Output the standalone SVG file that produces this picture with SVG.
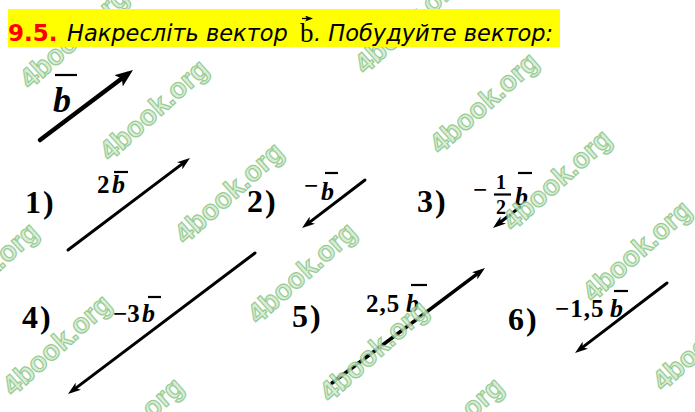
<svg xmlns="http://www.w3.org/2000/svg" width="695" height="412" viewBox="0 0 695 412">
<style>
.hd{font-family:"DejaVu Sans",Verdana,sans-serif;font-size:22.5px;}
.it{font-style:italic;fill:#000;}
.num{font-family:"Liberation Serif","Times New Roman",serif;font-weight:bold;font-size:32px;fill:#000;letter-spacing:2px;}
.lb{font-family:"Liberation Serif","Times New Roman",serif;font-weight:bold;font-size:25px;fill:#000;}
.bv{font-family:"Liberation Serif","Times New Roman",serif;font-weight:bold;font-style:italic;font-size:26px;fill:#000;}
.bar{stroke:#000;stroke-width:2.2;fill:none;}
.vec{stroke:#000;fill:none;stroke-linecap:round;}
.wm{font-family:"Liberation Sans",Arial,sans-serif;font-weight:bold;font-size:28px;fill:#d3ecce;stroke:#86c383;stroke-width:1.2;opacity:0.85;}
</style>
<defs>
<marker id="ah" markerUnits="userSpaceOnUse" viewBox="0 0 13 9" markerWidth="13" markerHeight="9" refX="7" refY="4.5" orient="auto">
<path d="M0,0 L13,4.5 L0,9 L3.5,4.5 Z" fill="#000"/>
</marker>
<marker id="ahb" markerUnits="userSpaceOnUse" viewBox="0 0 18 14" markerWidth="18" markerHeight="14" refX="11" refY="7" orient="auto">
<path d="M0,0 L18,7 L0,14 L4,7 Z" fill="#000"/>
</marker>
<marker id="ahs" markerUnits="userSpaceOnUse" viewBox="0 0 8 6" markerWidth="8" markerHeight="6" refX="5" refY="3" orient="auto">
<path d="M0,0 L8,3 L0,6 L2,3 Z" fill="#000"/>
</marker>
</defs>
<rect width="695" height="412" fill="#fff"/>

<g id="node-b">
<text class="bv" x="53" y="112" style="font-size:36px">b</text>
<line class="bar" x1="55" y1="75" x2="77" y2="75" stroke-width="3"/>
</g>

<g id="node-1">
<text class="num" x="25" y="213">1)</text>
<text class="lb" x="97" y="193">2</text>
<text class="bv" x="112" y="193">b</text>
<line class="bar" x1="114" y1="172" x2="128" y2="172"/>
</g>

<g id="node-2">
<text class="num" x="247" y="212">2)</text>
<text class="lb" x="304" y="194">−</text>
<text class="bv" x="321" y="200">b</text>
<line class="bar" x1="325" y1="173" x2="338" y2="173"/>
</g>

<g id="node-3">
<text class="num" x="417" y="212">3)</text>
<text class="lb" x="473" y="198">−</text>
<text class="lb" x="496" y="189" style="font-size:20px">1</text>
<line class="bar" x1="494" y1="194.5" x2="511" y2="194.5"/>
<text class="lb" x="496" y="214" style="font-size:20px">2</text>
<text class="bv" x="515" y="205">b</text>
<line class="bar" x1="518" y1="173" x2="532" y2="173"/>
</g>

<g id="node-4">
<text class="num" x="22" y="328">4)</text>
<text class="lb" x="113" y="322">−3</text>
<text class="bv" x="142" y="322">b</text>
<line class="bar" x1="148" y1="297" x2="161" y2="297"/>
</g>

<g id="node-5">
<text class="num" x="292" y="327">5)</text>
<text class="lb" x="366" y="312" letter-spacing="1">2,5</text>
<text class="bv" x="406" y="312">b</text>
<line class="bar" x1="411" y1="285" x2="427" y2="285"/>
</g>

<g id="node-6">
<text class="num" x="508" y="330">6)</text>
<text class="lb" x="555" y="317" letter-spacing="1">−1,5</text>
<text class="bv" x="610" y="317">b</text>
<line class="bar" x1="614" y1="291" x2="628" y2="291"/>
</g>

<g id="connectors">
<line class="vec" x1="40" y1="140" x2="127.4" y2="74.2" stroke-width="4.5" marker-end="url(#ahb)"/>
<line class="vec" x1="68" y1="250" x2="185.2" y2="161.6" stroke-width="3" marker-end="url(#ah)"/>
<line class="vec" x1="365" y1="180" x2="306.8" y2="224.4" stroke-width="3" marker-end="url(#ah)"/>
<line class="vec" x1="520" y1="207" x2="497.7" y2="224.3" stroke-width="3" marker-end="url(#ah)"/>
<line class="vec" x1="255" y1="253" x2="72.8" y2="390.4" stroke-width="3" marker-end="url(#ah)"/>
<line class="vec" x1="332" y1="383" x2="480.2" y2="271.6" stroke-width="3.5" marker-end="url(#ah)"/>
<line class="vec" x1="667" y1="283" x2="579.8" y2="349.4" stroke-width="3" marker-end="url(#ah)"/>
</g>

<g id="watermarks">
<text class="wm" transform="translate(30,90) rotate(-42)">4book.org</text>
<text class="wm" transform="translate(110,162) rotate(-42)">4book.org</text>
<text class="wm" transform="translate(185,245) rotate(-42)">4book.org</text>
<text class="wm" transform="translate(258,325) rotate(-42)">4book.org</text>
<text class="wm" transform="translate(330,403) rotate(-42)">4book.org</text>
<text class="wm" transform="translate(405,480) rotate(-42)">4book.org</text>
<text class="wm" transform="translate(365,75) rotate(-42)">4book.org</text>
<text class="wm" transform="translate(440,155) rotate(-42)">4book.org</text>
<text class="wm" transform="translate(513,232) rotate(-42)">4book.org</text>
<text class="wm" transform="translate(593,303) rotate(-42)">4book.org</text>
<text class="wm" transform="translate(663,392) rotate(-42)">4book.org</text>
<text class="wm" transform="translate(-60,325) rotate(-42)">4book.org</text>
<text class="wm" transform="translate(13,397) rotate(-42)">4book.org</text>
<text class="wm" transform="translate(85,480) rotate(-42)">4book.org</text>
</g>

<g id="header">
<rect x="8" y="9" width="552" height="38" fill="#ffff00"/>
<text class="hd" x="8" y="41" font-weight="bold" fill="#ff0000" style="font-size:23px">9.5.</text>
<text class="hd it" x="67" y="41">Накресліть вектор</text>
<text x="300" y="42" font-family="Liberation Serif,'Times New Roman',serif" font-size="27" fill="#000">b</text>
<line x1="302" y1="18.5" x2="310" y2="18.5" stroke="#000" stroke-width="1.3" marker-end="url(#ahs)"/>
<text class="hd it" x="314" y="41">. Побудуйте вектор:</text>
</g>
</svg>
